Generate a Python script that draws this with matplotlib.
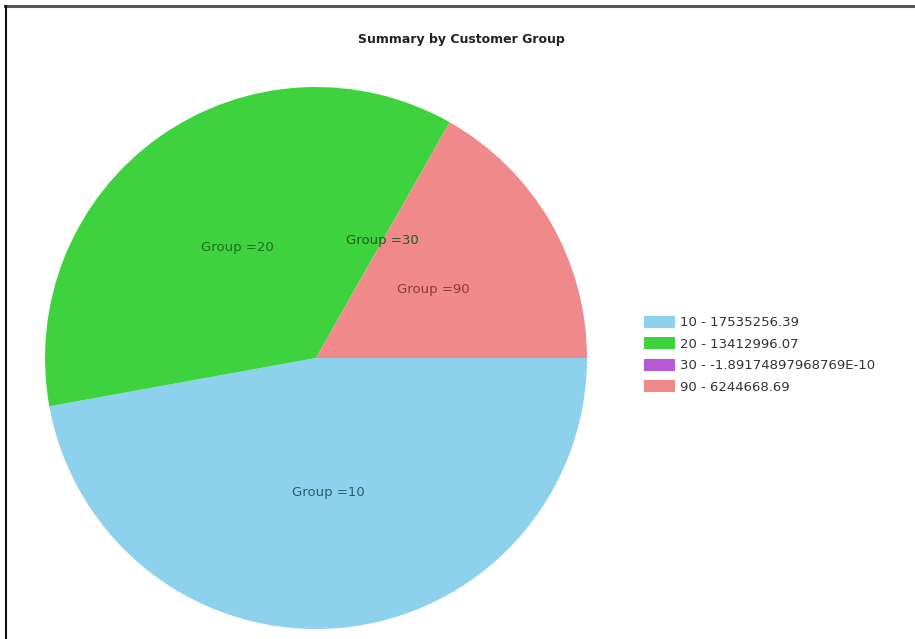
import matplotlib
matplotlib.use("Agg")
import matplotlib.pyplot as plt
import matplotlib.patches as mpatches
from matplotlib.lines import Line2D
import numpy as np

groups = ["10", "20", "30", "90"]
values = [17535256.39, 13412996.07, -1.89174897968769e-10, 6244668.69]
value_texts = ["17535256.39", "13412996.07", "-1.89174897968769E-10", "6244668.69"]
colors = ["#8ed1ec", "#3ed33e", "#b85ad8", "#f08a8a"]
label_colors = ["#2f5b70", "#1f6a1f", "#1f5a1f", "#8a3a3a"]
title = "Summary by Customer Group"

W, H = 915, 639
fig = plt.figure(figsize=(W / 100, H / 100), dpi=100)
fig.patch.set_facecolor("white")

# pie axes (pixel placement)
cx, cy, r = 316, 358, 271
ax = fig.add_axes([(cx - r) / W, (H - cy - r) / H, 2 * r / W, 2 * r / H])
plot_vals = np.clip(np.array(values), 0, None)
wedges, texts = ax.pie(plot_vals, colors=colors, startangle=0, counterclock=False,
                       labels=["Group =" + g for g in groups], labeldistance=0.5,
                       radius=1.0, wedgeprops=dict(linewidth=0),
                       textprops=dict(fontsize=9.5, ha="center", va="center"))
for t, c in zip(texts, label_colors):
    t.set_color(c)
    t.set_horizontalalignment("center")
ax.set_xlim(-1, 1)
ax.set_ylim(-1, 1)
ax.set_aspect("auto")
ax.axis("off")

fig.text(461 / W, 1 - 40 / H, title, ha="center", va="center",
         fontsize=9, fontweight="bold", color="#222222")

# legend
handles = [mpatches.Patch(facecolor=c, edgecolor="none") for c in colors]
leg_labels = [f"{g} - {v}" for g, v in zip(groups, value_texts)]
leg = fig.legend(handles, leg_labels, loc="upper left",
                 bbox_to_anchor=(633 / W, 1 - 305 / H), frameon=False,
                 fontsize=9.5, handlelength=2.4, handleheight=1.05,
                 handletextpad=0.35, labelspacing=0.6, borderpad=0.3)
for t in leg.get_texts():
    t.set_color("#333333")

# frame lines
fig.add_artist(Line2D([5 / W, 1], [1 - 6 / H, 1 - 6 / H], color="#555555", lw=2.2,
                      transform=fig.transFigure))
fig.add_artist(Line2D([6 / W, 6 / W], [0, 1 - 6 / H], color="#111111", lw=1.5,
                      transform=fig.transFigure))

fig.savefig("out.png", dpi=100, facecolor="white")
